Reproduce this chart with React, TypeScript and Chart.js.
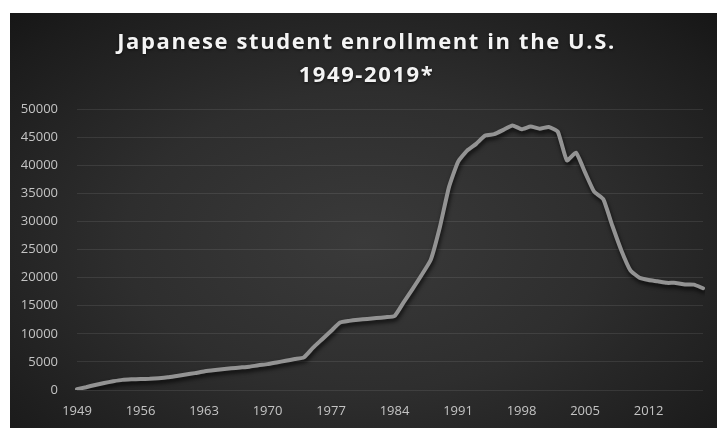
import React, { useEffect, useRef } from "react";
import { Chart, registerables } from "chart.js";

Chart.register(...registerables);

const years: string[] = [];
for (let y = 1949; y <= 2018; y++) years.push(String(y));

const enrollment: number[] = [
  // 1949-1958
  150, 500, 900, 1250, 1550, 1800, 1900, 1950, 2000, 2100,
  // 1959-1968
  2250, 2500, 2750, 3000, 3300, 3500, 3700, 3850, 4000, 4150,
  // 1969-1978
  4400, 4600, 4900, 5200, 5500, 5800, 7500, 9000, 10500, 12000,
  // 1979-1988
  12300, 12500, 12650, 12800, 12950, 13160, 15600, 18000, 20500, 23200,
  // 1989-1998
  29000, 36100, 40600, 42600, 43800, 45276, 45531, 46292, 47073, 46406,
  // 1999-2008
  46872, 46497, 46810, 45960, 40835, 42215, 38712, 35282, 33974, 29264,
  // 2009-2018
  24842, 21290, 19966, 19568, 19334, 19064, 19060, 18780, 18753, 18105,
];

const titleLines = ["Japanese student enrollment in the U.S.", "1949-2019*"];
const yMax = 50000;
const yStep = 5000;

const shadowPlugin = {
  id: "lineShadow",
  beforeDatasetsDraw(chart: any) {
    const ctx = chart.ctx;
    ctx.save();
    ctx.shadowColor = "rgba(0,0,0,0.75)";
    ctx.shadowBlur = 4;
    ctx.shadowOffsetX = 1;
    ctx.shadowOffsetY = 3;
  },
  afterDatasetsDraw(chart: any) {
    chart.ctx.restore();
  },
};

const titlePlugin = {
  id: "spacedTitle",
  afterDraw(chart: any) {
    const ctx = chart.ctx;
    ctx.save();
    ctx.font = "bold 22px 'Open Sans', sans-serif";
    (ctx as any).letterSpacing = "1.6px";
    ctx.fillStyle = "#f4f4f4";
    ctx.textAlign = "center";
    ctx.textBaseline = "alphabetic";
    ctx.shadowColor = "rgba(0,0,0,0.6)";
    ctx.shadowBlur = 3;
    ctx.shadowOffsetY = 1;
    const cx = chart.width / 2 + 3;
    ctx.fillText(titleLines[0], cx, 36);
    ctx.fillText(titleLines[1], cx, 69);
    ctx.restore();
  },
};

export default function App() {
  const ref = useRef<HTMLCanvasElement | null>(null);

  useEffect(() => {
    if (!ref.current) return;
    const chart = new Chart(ref.current, {
      type: "line",
      data: {
        labels: years,
        datasets: [
          {
            data: enrollment,
            borderColor: "#939393",
            borderWidth: 4,
            pointRadius: 0,
            tension: 0.15,
            fill: false,
            borderCapStyle: "round",
            borderJoinStyle: "round",
          },
        ],
      },
      plugins: [shadowPlugin, titlePlugin],
      options: {
        animation: false,
        responsive: false,
        maintainAspectRatio: false,
        layout: { padding: { left: 0, right: 14, top: 96, bottom: 0 } },
        plugins: {
          legend: { display: false },
          tooltip: { enabled: false },
          title: { display: false },
        },
        scales: {
          x: {
            grid: { display: false, drawTicks: false },
            border: { display: false },
            ticks: {
              color: "#c4c4c4",
              font: { family: "'Open Sans', sans-serif", size: 13 },
              autoSkip: false,
              maxRotation: 0,
              padding: 13,
              callback: function (_v: any, i: number) {
                return i % 7 === 0 ? years[i] : "";
              },
            },
            afterFit(scale: any) {
              scale.height = 38;
            },
          },
          y: {
            min: 0,
            max: yMax,
            grid: { color: "rgba(255,255,255,0.09)", drawTicks: false, lineWidth: 1 },
            border: { display: false },
            ticks: {
              stepSize: yStep,
              color: "#c4c4c4",
              font: { family: "'Open Sans', sans-serif", size: 13 },
              padding: 19,
              callback: (v: any) => String(v),
            },
            afterFit(scale: any) {
              scale.width = 67;
            },
          },
        },
      },
    });
    return () => chart.destroy();
  }, []);

  return (
    <div
      style={{
        position: "absolute",
        left: 10,
        top: 13,
        width: 707,
        height: 415,
        background:
          "radial-gradient(ellipse 75% 80% at 50% 55%, #3a3a3a 0%, #2e2e2e 45%, #1c1c1c 85%, #141414 100%)",
      }}
    >
      <canvas ref={ref} width={707} height={415} style={{ display: "block" }} />
    </div>
  );
}
